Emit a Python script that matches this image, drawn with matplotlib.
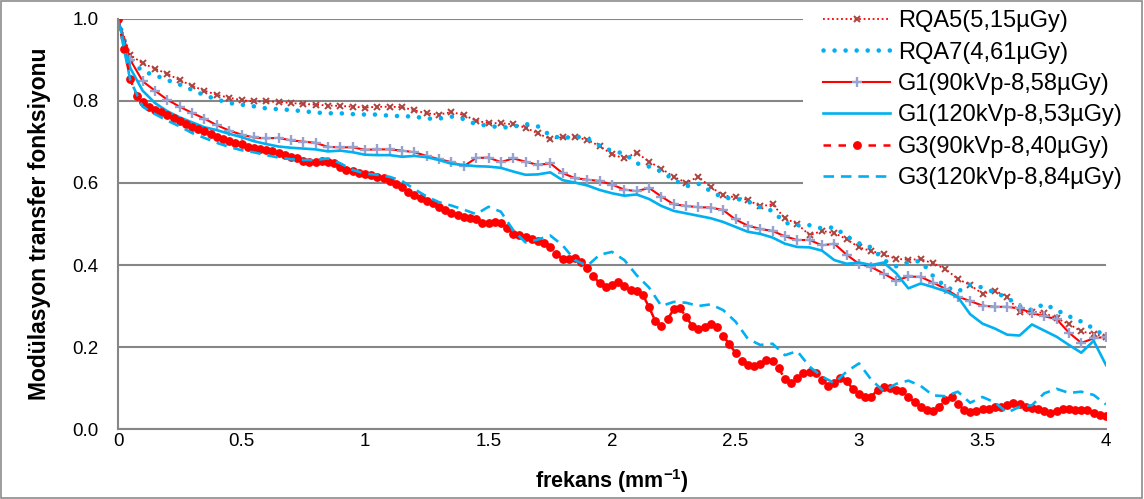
import numpy as np
import matplotlib
matplotlib.use("Agg")
import matplotlib.pyplot as plt
from matplotlib.patches import Rectangle

plt.rcParams['font.family'] = ['Liberation Sans', 'DejaVu Sans']
plt.rcParams['mathtext.fontset'] = 'custom'
plt.rcParams['mathtext.rm'] = 'Liberation Sans'
plt.rcParams['mathtext.bf'] = 'Liberation Sans:bold'

# frequency grids (mm^-1)
freq = np.arange(81) * 0.05
freq_fine = np.arange(161) * 0.025

rqa5 = [1.0, 0.912, 0.892, 0.879, 0.866, 0.851, 0.837, 0.825, 0.815, 0.808,
        0.802, 0.799, 0.799, 0.798, 0.795, 0.793, 0.791, 0.789, 0.788, 0.786,
        0.784, 0.786, 0.786, 0.785, 0.777, 0.770, 0.767, 0.773, 0.766, 0.752,
        0.746, 0.746, 0.743, 0.735, 0.721, 0.707, 0.712, 0.712, 0.705, 0.690,
        0.670, 0.660, 0.674, 0.652, 0.635, 0.615, 0.601, 0.615, 0.590, 0.570,
        0.565, 0.559, 0.543, 0.548, 0.514, 0.500, 0.473, 0.483, 0.478, 0.463,
        0.443, 0.434, 0.426, 0.415, 0.413, 0.414, 0.404, 0.390, 0.366, 0.351,
        0.330, 0.337, 0.323, 0.285, 0.286, 0.283, 0.270, 0.256, 0.238, 0.232,
        0.225]

rqa7 = [1.0, 0.900, 0.872, 0.863, 0.851, 0.840, 0.827, 0.814, 0.804, 0.795,
        0.791, 0.787, 0.782, 0.780, 0.778, 0.775, 0.772, 0.770, 0.770, 0.768,
        0.767, 0.767, 0.764, 0.763, 0.762, 0.757, 0.757, 0.762, 0.756, 0.743,
        0.740, 0.735, 0.737, 0.744, 0.738, 0.716, 0.709, 0.714, 0.708, 0.691,
        0.678, 0.672, 0.648, 0.640, 0.628, 0.608, 0.592, 0.598, 0.580, 0.564,
        0.562, 0.555, 0.541, 0.532, 0.503, 0.497, 0.497, 0.489, 0.492, 0.470,
        0.453, 0.443, 0.412, 0.397, 0.406, 0.410, 0.373, 0.347, 0.335, 0.352,
        0.345, 0.333, 0.320, 0.300, 0.290, 0.305, 0.290, 0.275, 0.262, 0.245,
        0.225]

g1_90 = [1.0, 0.900, 0.848, 0.825, 0.803, 0.786, 0.771, 0.757, 0.741, 0.728,
         0.718, 0.711, 0.709, 0.710, 0.704, 0.701, 0.698, 0.688, 0.687, 0.687,
         0.681, 0.682, 0.682, 0.679, 0.675, 0.666, 0.658, 0.651, 0.641, 0.661,
         0.662, 0.651, 0.660, 0.652, 0.644, 0.648, 0.624, 0.612, 0.608, 0.605,
         0.596, 0.584, 0.580, 0.588, 0.567, 0.548, 0.544, 0.541, 0.540, 0.534,
         0.511, 0.496, 0.488, 0.483, 0.470, 0.461, 0.461, 0.448, 0.452, 0.425,
         0.403, 0.395, 0.379, 0.362, 0.372, 0.371, 0.357, 0.342, 0.323, 0.312,
         0.301, 0.298, 0.298, 0.294, 0.283, 0.275, 0.268, 0.235, 0.210, 0.221,
         0.225]

g1_120 = [1.0, 0.880, 0.825, 0.795, 0.775, 0.760, 0.748, 0.736, 0.729, 0.720,
          0.712, 0.702, 0.695, 0.689, 0.686, 0.684, 0.682, 0.677, 0.679, 0.675,
          0.669, 0.668, 0.668, 0.664, 0.666, 0.663, 0.656, 0.647, 0.644, 0.641,
          0.640, 0.637, 0.628, 0.620, 0.621, 0.626, 0.607, 0.601, 0.594, 0.583,
          0.575, 0.569, 0.572, 0.561, 0.544, 0.532, 0.526, 0.520, 0.514, 0.505,
          0.493, 0.481, 0.476, 0.467, 0.452, 0.444, 0.443, 0.435, 0.412, 0.403,
          0.406, 0.400, 0.406, 0.380, 0.343, 0.355, 0.346, 0.336, 0.322, 0.280,
          0.257, 0.245, 0.230, 0.228, 0.255, 0.240, 0.225, 0.205, 0.186, 0.215,
          0.156]

g3_90 = [1.0, 0.926, 0.853, 0.812, 0.797, 0.786, 0.778, 0.772, 0.766, 0.758,
         0.751, 0.744, 0.737, 0.732, 0.727, 0.719, 0.713, 0.707, 0.703, 0.698,
         0.695, 0.689, 0.685, 0.682, 0.680, 0.678, 0.674, 0.668, 0.664, 0.660,
         0.654, 0.652, 0.652, 0.654, 0.652, 0.648, 0.638, 0.632, 0.629, 0.625,
         0.621, 0.620, 0.615, 0.611, 0.606, 0.598, 0.590, 0.579, 0.571, 0.564,
         0.557, 0.550, 0.542, 0.534, 0.528, 0.522, 0.516, 0.514, 0.511, 0.502,
         0.502, 0.506, 0.503, 0.490, 0.476, 0.473, 0.469, 0.463, 0.459, 0.454,
         0.445, 0.427, 0.415, 0.414, 0.416, 0.408, 0.392, 0.373, 0.355, 0.347,
         0.351, 0.359, 0.350, 0.339, 0.337, 0.327, 0.297, 0.264, 0.251, 0.268,
         0.292, 0.294, 0.274, 0.251, 0.243, 0.250, 0.256, 0.248, 0.227, 0.207,
         0.186, 0.167, 0.156, 0.154, 0.159, 0.168, 0.167, 0.148, 0.122, 0.113,
         0.124, 0.136, 0.140, 0.137, 0.120, 0.106, 0.113, 0.124, 0.118, 0.097,
         0.085, 0.079, 0.079, 0.095, 0.103, 0.099, 0.095, 0.093, 0.079, 0.065,
         0.054, 0.046, 0.045, 0.054, 0.071, 0.077, 0.062, 0.046, 0.042, 0.045,
         0.048, 0.050, 0.054, 0.054, 0.058, 0.064, 0.060, 0.054, 0.052, 0.048,
         0.044, 0.040, 0.044, 0.048, 0.048, 0.046, 0.046, 0.046, 0.040, 0.034,
         0.032]

g3_120 = [1.0, 0.850, 0.786, 0.768, 0.752, 0.738, 0.722, 0.710, 0.698, 0.688,
          0.680, 0.675, 0.668, 0.662, 0.658, 0.656, 0.656, 0.660, 0.648, 0.632,
          0.623, 0.620, 0.615, 0.605, 0.585, 0.567, 0.553, 0.545, 0.535, 0.524,
          0.542, 0.530, 0.485, 0.455, 0.462, 0.472, 0.448, 0.412, 0.398, 0.425,
          0.432, 0.412, 0.375, 0.345, 0.300, 0.310, 0.308, 0.300, 0.304, 0.290,
          0.262, 0.220, 0.205, 0.208, 0.180, 0.190, 0.152, 0.128, 0.112, 0.140,
          0.160, 0.120, 0.092, 0.110, 0.118, 0.105, 0.082, 0.080, 0.091, 0.064,
          0.078, 0.065, 0.040, 0.054, 0.058, 0.087, 0.098, 0.088, 0.091, 0.083,
          0.060]

labels = ['RQA5(5,15µGy)', 'RQA7(4,61µGy)', 'G1(90kVp-8,58µGy)',
          'G1(120kVp-8,53µGy)', 'G3(90kVp-8,40µGy)', 'G3(120kVp-8,84µGy)']

red = '#FF0000'
blue = '#00B0F0'
grey = '#868686'

fig = plt.figure(figsize=(11.44, 4.99), dpi=100)
ax = fig.add_axes([118 / 1144, 70 / 499, 988 / 1144, 410 / 499])

ax.plot(freq, rqa5, color=red, lw=1.3, linestyle=(0, (1, 1.5)),
        marker='x', ms=5, mew=1.4, mec='#A9443F', label=labels[0])
ax.plot(freq, rqa7, color=blue, lw=3.3, linestyle=(0, (0.01, 2.4)),
        dash_capstyle='round', label=labels[1])
ax.plot(freq, g1_90, color=red, lw=1.5, marker='+', ms=7.5, mew=1.7,
        mec='#97A3CE', label=labels[2])
ax.plot(freq, g1_120, color=blue, lw=1.9, label=labels[3])
ax.plot(freq_fine, g3_90, color=red, lw=1.8, linestyle=(0, (3, 3)),
        marker='o', ms=5.3, mec=red, mfc=red, label=labels[4])
ax.plot(freq, g3_120, color=blue, lw=1.9, linestyle=(0, (4, 2.6)),
        label=labels[5])

ax.set_xlim(0, 4)
ax.set_ylim(0, 1.0)
ax.set_xticks([0, 0.5, 1, 1.5, 2, 2.5, 3, 3.5, 4])
ax.set_xticklabels(['0', '0.5', '1', '1.5', '2', '2.5', '3', '3.5', '4'])
ax.set_yticks(np.arange(0, 1.01, 0.2))
ax.set_yticklabels(['0.0', '0.2', '0.4', '0.6', '0.8', '1.0'])
ax.tick_params(axis='both', length=0, labelsize=13.5, colors='black')
ax.tick_params(axis='x', pad=3)
ax.tick_params(axis='y', pad=14)

ax.grid(axis='y', color=grey, lw=1.5)
ax.set_axisbelow(True)
for s in ['top', 'right']:
    ax.spines[s].set_visible(False)
for s in ['left', 'bottom']:
    ax.spines[s].set_color(grey)
    ax.spines[s].set_linewidth(1.5)

ax.set_ylabel('Modülasyon transfer fonksiyonu', fontsize=16.5,
              fontweight='bold', labelpad=15)
ax.set_xlabel(r'frekans (mm$^{\mathbf{-1}}$)', fontsize=15.5,
              fontweight='bold', labelpad=12)

leg = ax.legend(loc='upper left', bbox_to_anchor=(803 / 1144, 1.02),
                bbox_transform=fig.transFigure, fontsize=17, frameon=True,
                facecolor='white', edgecolor='none', framealpha=1,
                fancybox=False, handlelength=2.85, handletextpad=0.33,
                labelspacing=0.4, borderpad=0.85, borderaxespad=0)

fig.patches.append(Rectangle((0.001, 0.002), 0.997, 0.996,
                             transform=fig.transFigure, fill=False,
                             edgecolor='#8c8c8c', lw=1.2))

fig.savefig('out.png', dpi=100)
